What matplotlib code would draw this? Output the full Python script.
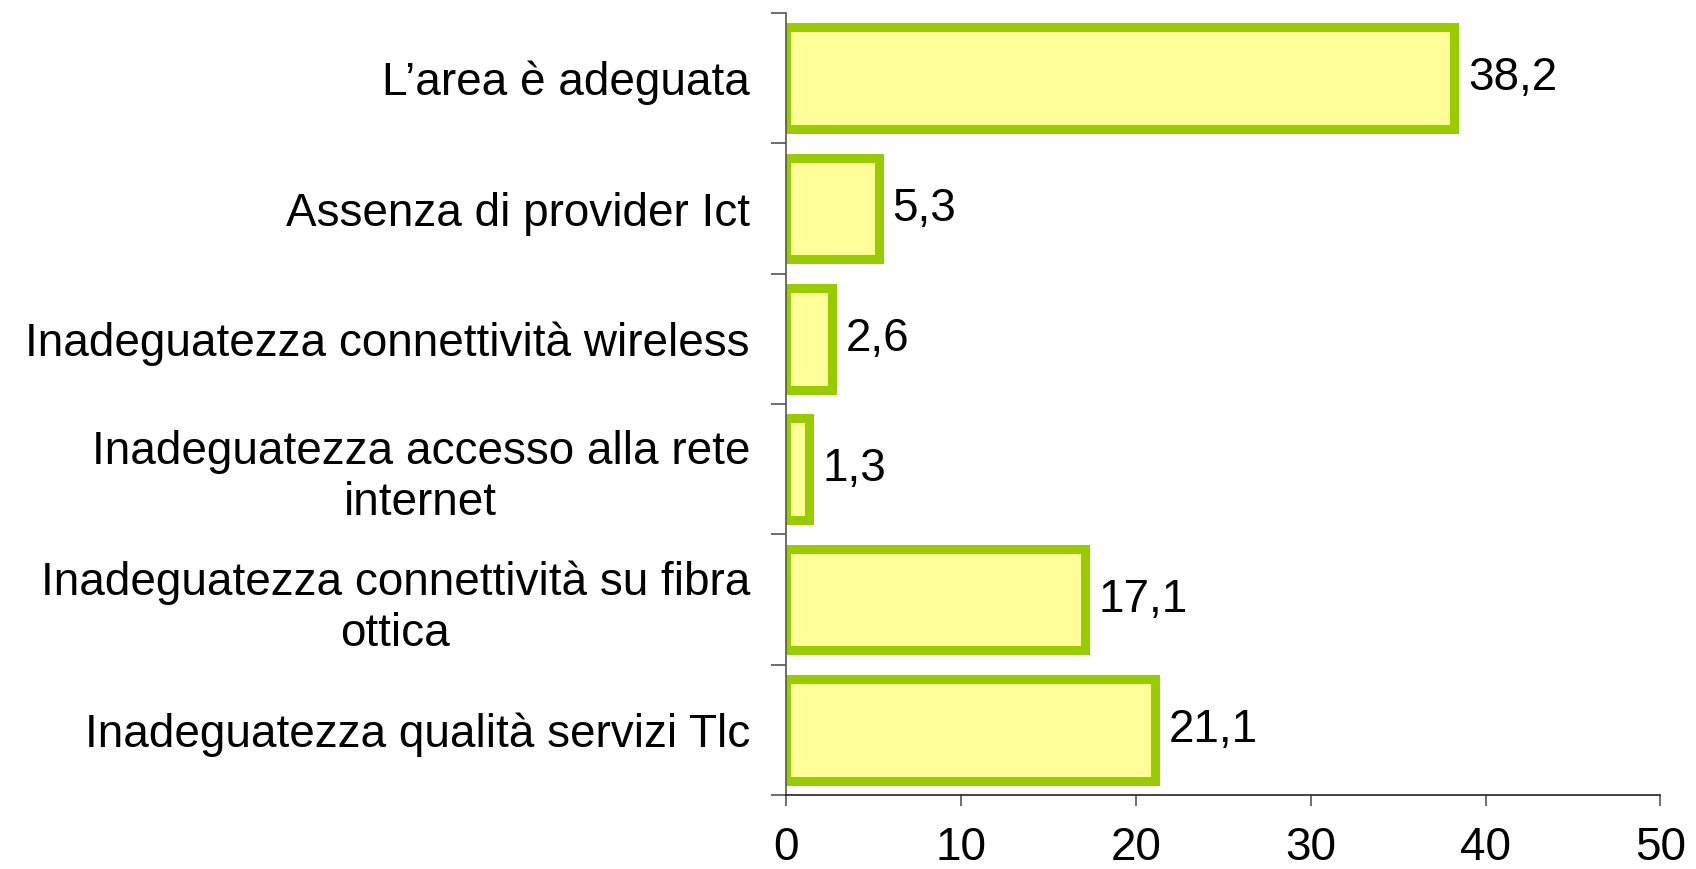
import numpy as np
import matplotlib.pyplot as plt

categories = [
    "L\u2019area è adeguata",
    "Assenza di provider Ict",
    "Inadeguatezza connettività wireless",
    "Inadeguatezza accesso alla rete\ninternet",
    "Inadeguatezza connettività su fibra\nottica",
    "Inadeguatezza qualità servizi Tlc",
]
values = [38.2, 5.3, 2.6, 1.3, 17.1, 21.1]
x_ticks = [0, 10, 20, 30, 40, 50]

plt.rcParams['font.family'] = ['Liberation Sans', 'DejaVu Sans']

fig = plt.figure(figsize=(16.96, 8.69), dpi=100)
ax = fig.add_axes([0.4635, 0.085, 0.979 - 0.4635, 0.985 - 0.085])

y = np.arange(len(categories))
ax.barh(y, values, height=0.78, color='#FFFF99', edgecolor='#99CC00', linewidth=6.5)

for yi, v in zip(y, values):
    ax.annotate(f"{v:.1f}".replace('.', ','), (v, yi), xytext=(10, 0),
                textcoords='offset points', va='center', ha='left', fontsize=33)

ax.set_xlim(0, 50)
ax.set_ylim(len(categories) - 0.5, -0.5)

ax.set_yticks(y)
ax.set_yticklabels(categories, fontsize=33, multialignment='center')
ax.tick_params(axis='y', which='major', length=0, pad=26)
ax.set_yticks(np.arange(len(categories) + 1) - 0.5, minor=True)
ax.tick_params(axis='y', which='minor', length=11, width=1.2, color='#555555', direction='out')

ax.set_xticks(x_ticks)
ax.set_xticklabels([str(t) for t in x_ticks], fontsize=33)
ax.tick_params(axis='x', length=8, width=1.2, color='#555555', pad=14)

for s in ['top', 'right']:
    ax.spines[s].set_visible(False)
ax.spines['left'].set_color('#555555')
ax.spines['bottom'].set_color('#222222')
ax.spines['left'].set_linewidth(1.2)
ax.spines['bottom'].set_linewidth(1.2)

fig.savefig('out.png', dpi=100)
